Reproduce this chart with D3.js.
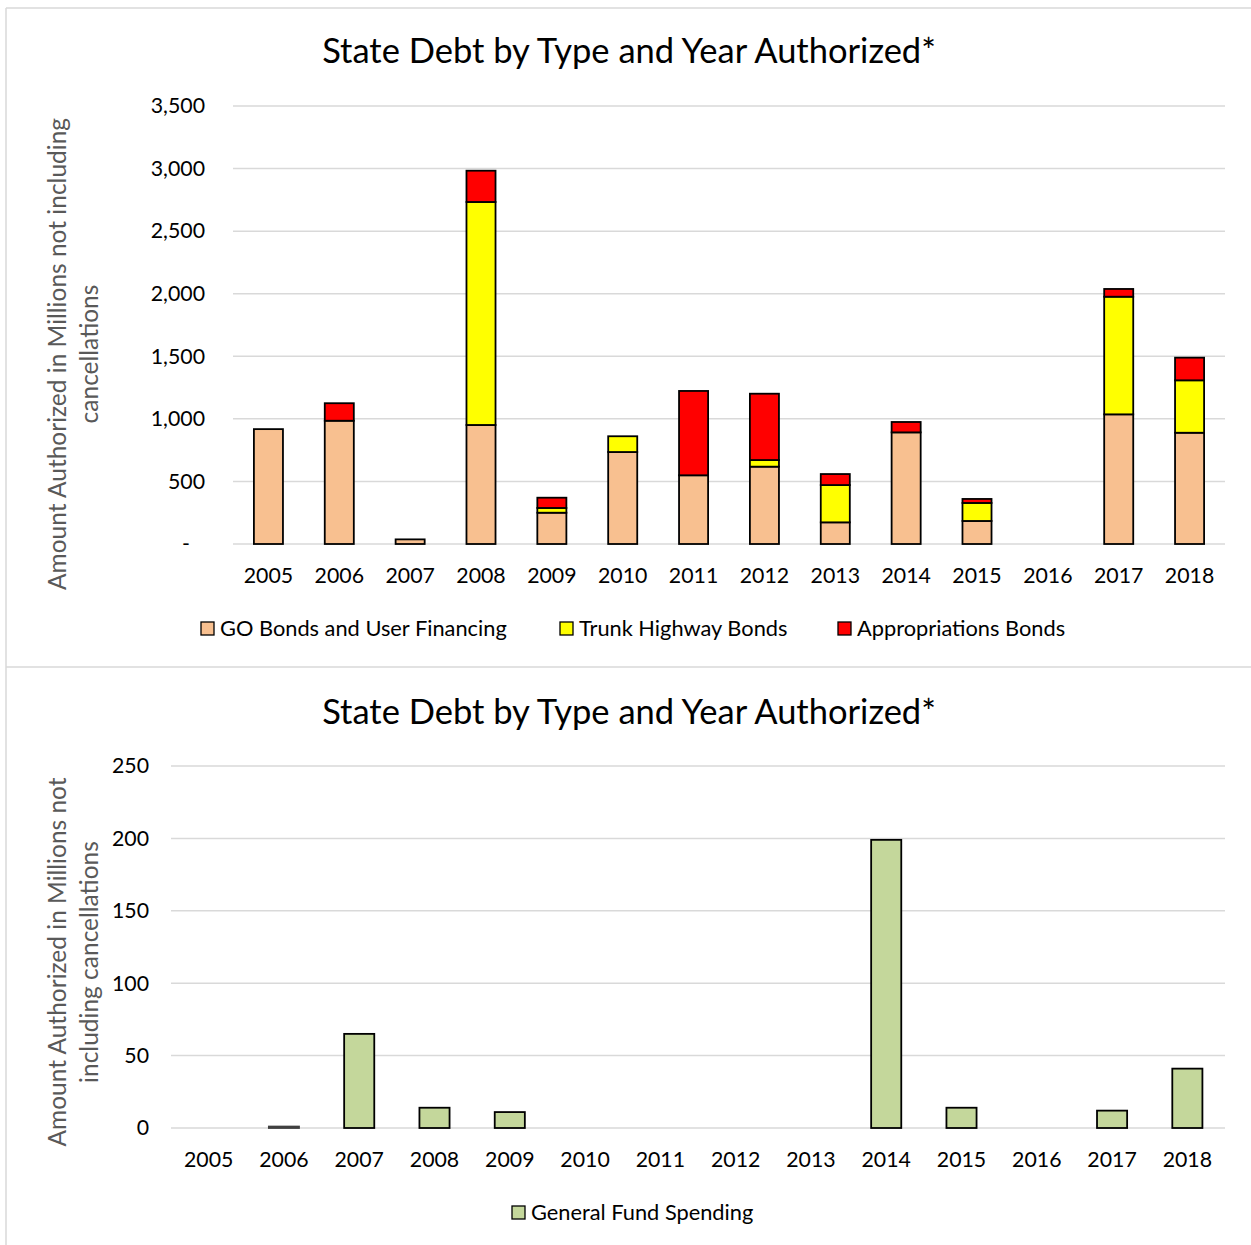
<!DOCTYPE html>
<html><head><meta charset="utf-8">
<script src="https://cdn.jsdelivr.net/npm/d3@7"></script>
<style>body{margin:0;background:#fff}svg{display:block}text{font-family:Lato,"Open Sans",sans-serif}</style>
</head><body><svg id="c" width="1251" height="1245"></svg>
<script>
const years = ["2005","2006","2007","2008","2009","2010","2011","2012","2013","2014","2015","2016","2017","2018"];
const goBonds = [918, 985, 37, 951, 250, 735, 549, 618, 173, 892, 184, 0, 1036, 889];
const trunkHighway = [0, 0, 0, 1782, 38, 126, 0, 53, 298, 0, 144, 0, 940, 419];
const appropriations = [0, 140, 0, 250, 82, 0, 674, 530, 88, 83, 32, 0, 62, 181];
const generalFund = [0, 1, 65, 14, 11, 0, 0, 0, 0, 199, 14, 0, 12, 41];
const topTicks = [0, 500, 1000, 1500, 2000, 2500, 3000, 3500];
const botTicks = [0, 50, 100, 150, 200, 250];
const seriesNames = ["GO Bonds and User Financing", "Trunk Highway Bonds", "Appropriations Bonds"];
const seriesColors = ["#F8C090", "#FFFF00", "#FF0000"];
const gfName = "General Fund Spending";
const gfColor = "#C4D79B";
const titleText = "State Debt by Type and Year Authorized*";

const svg = d3.select("#c");
const grid = "#D9D9D9";
svg.append("line").attr("x1",6).attr("x2",1251).attr("y1",8).attr("y2",8).attr("stroke",grid).attr("stroke-width",1.5);
svg.append("line").attr("x1",6).attr("x2",1251).attr("y1",667).attr("y2",667).attr("stroke",grid).attr("stroke-width",1.5);
svg.append("line").attr("x1",6).attr("x2",6).attr("y1",8).attr("y2",1245).attr("stroke",grid).attr("stroke-width",1.5);

function drawTitle(y){
  svg.append("text").attr("x",629).attr("y",y).attr("text-anchor","middle")
    .attr("font-size",34.5).attr("fill","#000").text(titleText);
}
const tickFont = 21.3;

// ---- Top chart ----
drawTitle(63);
const x1 = d3.scaleBand().domain(years).range([233,1225]).paddingInner(0.59).paddingOuter(0.295);
const y1 = d3.scaleLinear().domain([0,3500]).range([544,106]);
const g1 = svg.append("g");
g1.append("g").selectAll("line").data(topTicks).join("line")
  .attr("x1",233).attr("x2",1225).attr("y1",d=>y1(d)).attr("y2",d=>y1(d))
  .attr("stroke",grid).attr("stroke-width",1.5);
const yAx1 = g1.append("g").attr("transform","translate(233,0)")
  .call(d3.axisLeft(y1).tickValues(topTicks).tickSize(0).tickPadding(28)
    .tickFormat(d=> d===0 ? "-" : d3.format(",")(d)));
yAx1.select(".domain").remove();
yAx1.selectAll("text").attr("font-size",tickFont).attr("fill","#000").style("font-family","Lato, sans-serif");
yAx1.selectAll(".tick").filter(d=>d===0).select("text").attr("dx",-15);

const stackData = years.map((yr,i)=>({year:yr, go:goBonds[i], th:trunkHighway[i], ap:appropriations[i]}));
const stack = d3.stack().keys(["go","th","ap"])(stackData);
stack.forEach((layer,k)=>{
  g1.append("g").selectAll("rect").data(layer.filter(d=>d[1]-d[0]>0)).join("rect")
    .attr("x",d=>x1(d.data.year)).attr("width",x1.bandwidth())
    .attr("y",d=>y1(d[1])).attr("height",d=>y1(d[0])-y1(d[1]))
    .attr("fill",seriesColors[k]).attr("stroke","#000").attr("stroke-width",1.8);
});
const xAx1 = g1.append("g").attr("transform","translate(0,544)")
  .call(d3.axisBottom(x1).tickSize(0).tickPadding(24));
xAx1.select(".domain").remove();
xAx1.selectAll("text").attr("font-size",tickFont).attr("fill","#000").style("font-family","Lato, sans-serif");

const yt1 = svg.append("text").attr("transform","translate(72,354) rotate(-90)")
  .attr("text-anchor","middle").attr("font-size",24.5).attr("fill","#595959");
yt1.append("tspan").attr("x",0).attr("y",-6).text("Amount Authorized in Millions not including");
yt1.append("tspan").attr("x",0).attr("y",26).text("cancellations");

const legX = [201, 560, 838];
seriesNames.forEach((n,i)=>{
  svg.append("rect").attr("x",legX[i]).attr("y",622).attr("width",13).attr("height",13)
    .attr("fill",seriesColors[i]).attr("stroke","#000").attr("stroke-width",1.3);
  svg.append("text").attr("x",legX[i]+19).attr("y",636).attr("font-size",21.8).attr("fill","#000").text(n);
});

// ---- Bottom chart ----
drawTitle(724);
const x2 = d3.scaleBand().domain(years).range([171,1225]).paddingInner(0.6).paddingOuter(0.3);
const y2 = d3.scaleLinear().domain([0,250]).range([1128,766]);
const g2 = svg.append("g");
g2.append("g").selectAll("line").data(botTicks).join("line")
  .attr("x1",171).attr("x2",1225).attr("y1",d=>y2(d)).attr("y2",d=>y2(d))
  .attr("stroke",grid).attr("stroke-width",1.5);
const yAx2 = g2.append("g").attr("transform","translate(171,0)")
  .call(d3.axisLeft(y2).tickValues(botTicks).tickSize(0).tickPadding(22));
yAx2.select(".domain").remove();
yAx2.selectAll("text").attr("font-size",tickFont).attr("fill","#000").style("font-family","Lato, sans-serif");

const gfData = years.map((yr,i)=>({year:yr, v:generalFund[i]})).filter(d=>d.v>0);
g2.append("g").selectAll("rect").data(gfData).join("rect")
  .attr("x",d=>x2(d.year)).attr("width",x2.bandwidth())
  .attr("y",d=>y2(d.v)).attr("height",d=>y2(0)-y2(d.v))
  .attr("fill",gfColor).attr("stroke",d=>d.v<3?"#404040":"#000").attr("stroke-width",1.8);
const xAx2 = g2.append("g").attr("transform","translate(0,1128)")
  .call(d3.axisBottom(x2).tickSize(0).tickPadding(24));
xAx2.select(".domain").remove();
xAx2.selectAll("text").attr("font-size",tickFont).attr("fill","#000").style("font-family","Lato, sans-serif");

const yt2 = svg.append("text").attr("transform","translate(72,962) rotate(-90)")
  .attr("text-anchor","middle").attr("font-size",24.5).attr("fill","#595959");
yt2.append("tspan").attr("x",0).attr("y",-6).text("Amount Authorized in Millions not");
yt2.append("tspan").attr("x",0).attr("y",26).text("including cancellations");

svg.append("rect").attr("x",512).attr("y",1206).attr("width",13).attr("height",13)
  .attr("fill",gfColor).attr("stroke","#000").attr("stroke-width",1.3);
svg.append("text").attr("x",531).attr("y",1220).attr("font-size",21.8).attr("fill","#000").text(gfName);
</script></body></html>
